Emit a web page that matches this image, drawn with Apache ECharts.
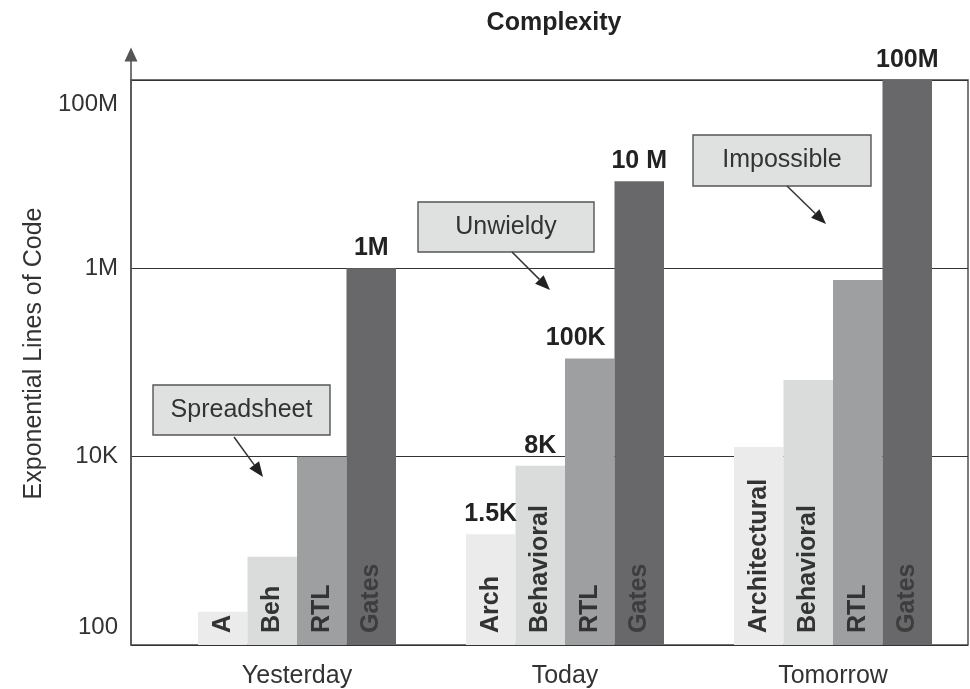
<!DOCTYPE html>
<html>
<head>
<meta charset="utf-8">
<script src="https://cdn.jsdelivr.net/npm/echarts@6/dist/echarts.min.js"></script>
<style>
  html, body { margin: 0; padding: 0; background: #fff; }
  #chart { width: 970px; height: 689px; }
</style>
</head>
<body>
<div id="chart"></div>
<script>
const eras = ['Yesterday', 'Today', 'Tomorrow']
// lines of code per abstraction level
const archLines = [225, 1500, 12700]
const behLines = [865, 8000, 65000]
const rtlLines = [10000, 110000, 750000]
const gateLines = [1000000, 8400000, 100000000]
// words written inside the bars
const archNames = ['A', 'Arch', 'Architectural']
const behNames = ['Beh', 'Behavioral', 'Behavioral']
const rtlNames = ['RTL', 'RTL', 'RTL']
const gateNames = ['Gates', 'Gates', 'Gates']
// figures written over the bars ('' = none)
const archTops = ['', '1.5K', '']
const behTops = ['', '8K', '']
const rtlTops = ['', '100K', '']
const gateTops = ['1M', '10 M', '100M']
// y axis ticks
const yTicks = [100, 10000, 1000000, 100000000]
const yTickLabels = ['100', '10K', '1M', '100M']

const font = 'Liberation Sans, Arial, Helvetica, sans-serif'
const topNudge = { '100K': -14 }

function barSeries (name, values, names, tops, color, textColor) {
  return {
    name: name,
    type: 'bar',
    xAxisIndex: 1,
    yAxisIndex: 1,
    barWidth: 49.5,
    barGap: '0%',
    itemStyle: { color: color },
    data: values,
    label: {
      show: true,
      position: 'insideBottom',
      rotate: 90,
      align: 'left',
      verticalAlign: 'middle',
      distance: 12,
      fontSize: 25,
      fontWeight: 'bold',
      fontFamily: font,
      color: textColor,
      formatter: p => names[p.dataIndex]
    },
    markPoint: {
      symbol: 'circle',
      symbolSize: 1,
      itemStyle: { color: 'rgba(0,0,0,0)' },
      label: {
        show: true,
        position: 'top',
        distance: 7,
        fontSize: 25,
        fontWeight: 'bold',
        fontFamily: font,
        color: '#222',
        formatter: '{b}'
      },
      data: tops.map((t, i) => t ? {
        name: t,
        coord: [i, values[i]],
        label: { offset: [topNudge[t] || 0, 0] }
      } : null).filter(Boolean)
    }
  }
}

function tickIndex (v) {
  return yTicks.findIndex(t => Math.abs(Math.log10(t) - Math.log10(v)) < 0.01)
}

// callout boxes with arrows (annotation layout, pixels)
const callouts = [
  { text: 'Spreadsheet', box: [153, 385, 177, 50], from: [234, 437], to: [263, 477] },
  { text: 'Unwieldy', box: [418, 202, 176, 50], from: [512, 252], to: [550, 290] },
  { text: 'Impossible', box: [693, 135, 178, 51], from: [787, 186], to: [826, 224] }
]

function calloutGraphics () {
  const out = []
  callouts.forEach(c => {
    out.push({
      type: 'rect',
      shape: { x: c.box[0], y: c.box[1], width: c.box[2], height: c.box[3] },
      style: { fill: '#dfe0e0', stroke: '#555', lineWidth: 1.4 },
      z: 100
    })
    out.push({
      type: 'text',
      x: c.box[0] + c.box[2] / 2,
      y: c.box[1] + c.box[3] / 2,
      style: {
        text: c.text,
        align: 'center',
        verticalAlign: 'middle',
        textAlign: 'center',
        textVerticalAlign: 'middle',
        fontSize: 25,
        fontFamily: font,
        fill: '#333'
      },
      z: 101
    })
    const dx = c.to[0] - c.from[0]
    const dy = c.to[1] - c.from[1]
    const len = Math.sqrt(dx * dx + dy * dy)
    const ux = dx / len
    const uy = dy / len
    const head = 15
    const half = 6
    const bx = c.to[0] - ux * head
    const by = c.to[1] - uy * head
    out.push({
      type: 'line',
      shape: { x1: c.from[0], y1: c.from[1], x2: bx, y2: by },
      style: { stroke: '#333', lineWidth: 1.5 },
      z: 100
    })
    out.push({
      type: 'polygon',
      shape: { points: [c.to, [bx - uy * half, by + ux * half], [bx + uy * half, by - ux * half]] },
      style: { fill: '#222' },
      z: 100
    })
  })
  return out
}

const chart = echarts.init(document.getElementById('chart'))
const option = {
  animation: false,
  backgroundColor: '#fff',
  title: {
    text: 'Complexity',
    left: 549,
    top: 6,
    textAlign: 'center',
    textStyle: { fontSize: 25, fontWeight: 'bold', fontFamily: font, color: '#222' }
  },
  grid: [
    { left: 131, right: 2, top: 80, bottom: 44, show: true, borderColor: '#444', borderWidth: 1.4, outerBoundsMode: 'none' },
    { left: 163, right: 3, top: 80, bottom: 44, outerBoundsMode: 'none' }
  ],
  xAxis: [
    {
      type: 'category', gridIndex: 0, data: eras,
      axisLine: { show: false }, axisTick: { show: false }, axisLabel: { show: false }, splitLine: { show: false }
    },
    {
      type: 'category', gridIndex: 1, data: eras,
      axisLine: { show: false }, axisTick: { show: false }, splitLine: { show: false },
      axisLabel: { margin: 19, fontSize: 25, fontFamily: font, color: '#333' }
    }
  ],
  yAxis: [
    {
      type: 'log', logBase: 100, min: 100, max: 100000000, gridIndex: 0,
      name: 'Exponential Lines of Code',
      nameLocation: 'middle',
      nameGap: 82,
      nameTextStyle: { fontSize: 25, fontFamily: font, color: '#333', padding: [0, 0, 0, 18] },
      axisLine: {
        show: true,
        lineStyle: { color: '#555', width: 1.6 },
        symbol: ['none', 'path://M6.5,0 L13,14 L7.3,14 L7.3,33 L5.7,33 L5.7,14 L0,14 Z'],
        symbolSize: [13, 33],
        symbolOffset: [0, 16]
      },
      axisTick: { show: false },
      splitLine: { show: true, lineStyle: { color: '#333', width: 1.2 } },
      axisLabel: {
        margin: 13,
        formatter: v => {
          const i = tickIndex(v)
          if (i < 0) return ''
          const key = i === 0 ? 'lo' : (i === yTicks.length - 1 ? 'hi' : 'mid')
          return '{' + key + '|' + yTickLabels[i] + '}'
        },
        rich: {
          lo: { fontSize: 24, fontFamily: font, color: '#333', padding: [0, 0, 36, 0] },
          mid: { fontSize: 24, fontFamily: font, color: '#333' },
          hi: { fontSize: 24, fontFamily: font, color: '#333', padding: [48, 0, 0, 0] }
        }
      }
    },
    { type: 'log', logBase: 100, min: 100, max: 100000000, gridIndex: 1, show: false }
  ],
  series: [
    barSeries('Architectural', archLines, archNames, archTops, '#ebebeb', '#333'),
    barSeries('Behavioral', behLines, behNames, behTops, '#dadbdb', '#333'),
    barSeries('RTL', rtlLines, rtlNames, rtlTops, '#9e9fa1', '#333'),
    barSeries('Gates', gateLines, gateNames, gateTops, '#68686a', '#3d3d3d')
  ],
  graphic: calloutGraphics()
}
chart.setOption(option)
</script>
</body>
</html>
